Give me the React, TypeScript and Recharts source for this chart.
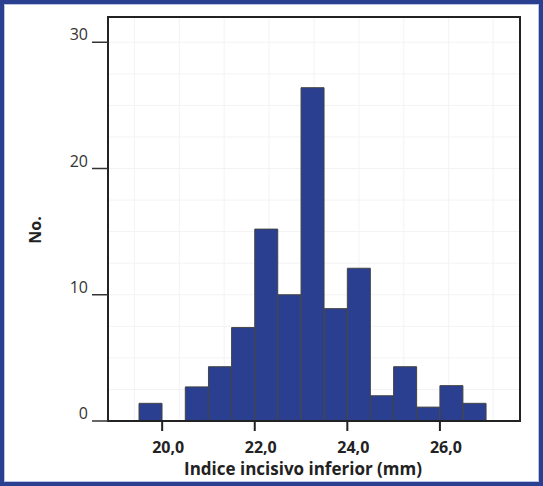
import {
  ComposedChart,
  Bar,
  XAxis,
  YAxis,
  CartesianGrid,
  ReferenceArea,
  Label,
} from 'recharts';

// bin midpoints (bin width 0.5 mm) and frequencies
const binMids = [19.75, 20.25, 20.75, 21.25, 21.75, 22.25, 22.75, 23.25, 23.75, 24.25, 24.75, 25.25, 25.75, 26.25, 26.75];
const counts = [1.4, 0, 2.7, 4.3, 7.4, 15.2, 10.0, 26.4, 8.9, 12.1, 2.0, 4.3, 1.1, 2.8, 1.4];

const xTicks = [20, 22, 24, 26];
const yTicks = [0, 10, 20, 30];
const xDomain: [number, number] = [18.83, 27.73];
const yDomain: [number, number] = [0, 32];

// faint background grid
const gridX = [18.92, 19.4, 19.89, 20.37, 20.86, 21.34, 21.83, 22.31, 22.8, 23.28, 23.76, 24.25, 24.73, 25.22, 25.7, 26.19, 26.67, 27.15];
const gridY = [0, 2.5, 5, 7.5, 10, 12.5, 15, 17.5, 20, 22.5, 25, 27.5, 30];

const data = binMids.map((mid, i) => ({ mid, count: counts[i] }));

const FONT = '"Open Sans", "Liberation Sans", sans-serif';
const BLUE = '#2a3f8f';

const XTick = ({ x, y, payload }: any) => (
  <text
    x={x + 6}
    y={y + 20}
    textAnchor="middle"
    fontFamily={FONT}
    fontSize={16}
    fontWeight={700}
    fill="#222"
  >
    {payload.value.toFixed(1).replace('.', ',')}
  </text>
);

const YTick = ({ x, y, payload }: any) => (
  <text x={x} y={y - 2} textAnchor="end" fontFamily={FONT} fontSize={16} fill="#333">
    {payload.value}
  </text>
);

export default function App() {
  return (
    <div style={{ position: 'absolute', left: 0, top: 0, width: 543, height: 486, background: '#fff' }}>
      <ComposedChart
        width={543}
        height={486}
        data={data}
        margin={{ top: 17, right: 23, bottom: 0, left: 0 }}
        barCategoryGap={0}
        barGap={0}
      >
        <CartesianGrid stroke="#f3f3f3" horizontalValues={gridY} verticalValues={gridX} />
        <XAxis
          dataKey="mid"
          type="number"
          domain={xDomain}
          allowDataOverflow
          ticks={xTicks}
          height={65}
          tickSize={10}
          tickMargin={2}
          tick={<XTick />}
          axisLine={{ stroke: '#222', strokeWidth: 2 }}
          tickLine={{ stroke: '#222', strokeWidth: 2 }}
        >
          <Label
            value="Indice incisivo inferior (mm)"
            position="insideBottom"
            offset={11}
            dx={-11}
            style={{ fontFamily: FONT, fontSize: 17, fontWeight: 700, fill: '#222' }}
          />
        </XAxis>
        <YAxis
          type="number"
          domain={yDomain}
          allowDataOverflow
          ticks={yTicks}
          width={108}
          tickSize={16}
          tickMargin={4}
          tick={<YTick />}
          axisLine={{ stroke: '#222', strokeWidth: 2 }}
          tickLine={{ stroke: '#333', strokeWidth: 1.5 }}
        >
          <Label
            content={({ viewBox }: any) => {
              const cx = viewBox.x + 35;
              const cy = viewBox.y + viewBox.height / 2 + 11;
              return (
                <text
                  x={cx}
                  y={cy}
                  transform={`rotate(-90 ${cx} ${cy})`}
                  textAnchor="middle"
                  dominantBaseline="central"
                  fontFamily={FONT}
                  fontSize={16}
                  fontWeight={700}
                  fill="#222"
                >
                  No.
                </text>
              );
            }}
          />
        </YAxis>
        <Bar dataKey="count" fill={BLUE} stroke="#444" strokeWidth={1} isAnimationActive={false} />
        <ReferenceArea
          x1={xDomain[0]}
          x2={xDomain[1]}
          y1={yDomain[0]}
          y2={yDomain[1]}
          fill="none"
          fillOpacity={0}
          stroke="#222"
          strokeWidth={2}
          ifOverflow="visible"
        />
      </ComposedChart>
      <div
        style={{
          position: 'absolute',
          inset: 0,
          border: `4px solid ${BLUE}`,
          boxShadow: 'inset 0 0 0 1px #b9c3e3',
          boxSizing: 'border-box',
          pointerEvents: 'none',
        }}
      />
    </div>
  );
}
